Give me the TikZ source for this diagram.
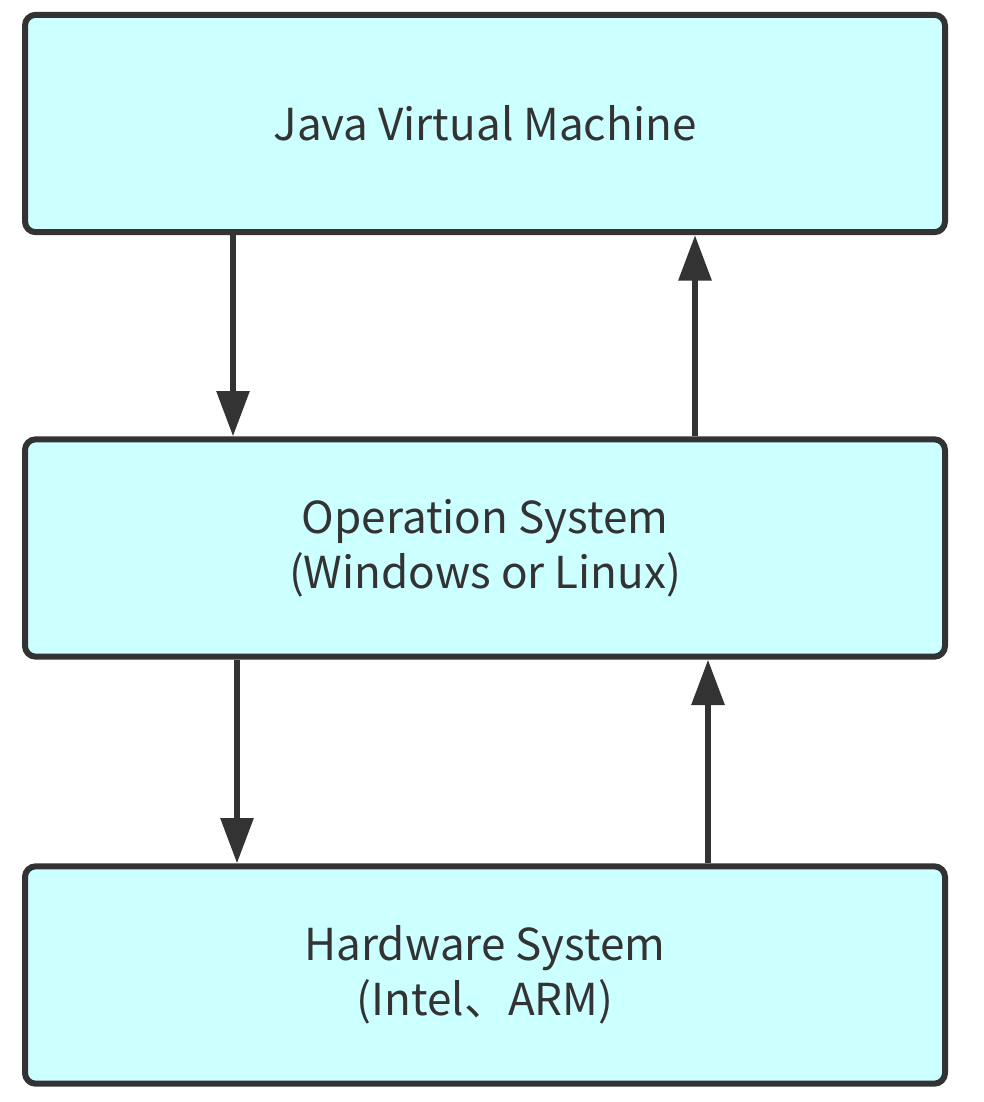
\documentclass[tikz,border=0pt]{standalone}
\usepackage{fontspec}
\setmainfont{Noto Sans CJK SC}
\usetikzlibrary{positioning}
\usetikzlibrary{arrows.meta}

\definecolor{boxfill}{HTML}{CCFFFF}
\definecolor{ink}{HTML}{333333}

\begin{document}
\begin{tikzpicture}[x=0.75pt,y=-0.75pt,
    layer/.style={draw=ink, line width=4.5pt, fill=boxfill, rounded corners=8pt,
      minimum width=690pt, minimum height=163pt, align=center, text=ink,
      font=\fontsize{33}{41}\selectfont},
    flow/.style={draw=ink, line width=4.5pt, -{Triangle[width=24pt,length=34pt]}}]
		\useasboundingbox (0,0) rectangle (984,1102);

		% Define the layers
		\node[layer] (jvm) at (485,123.5) {Java Virtual Machine};
		\node[layer] (os) at (485,548) {Operation System\\(Windows or Linux)};
		\node[layer] (hw) at (485,975) {Hardware System\\(Intel、ARM)};

		% Draw the arrows
		\draw[flow] (jvm.south -| 233,0) -- (os.north -| 233,0);
		\draw[flow] (os.north -| 695,0) -- (jvm.south -| 695,0);
		\draw[flow] (os.south -| 237,0) -- (hw.north -| 237,0);
		\draw[flow] (hw.north -| 708,0) -- (os.south -| 708,0);
	\end{tikzpicture}
\end{document}
